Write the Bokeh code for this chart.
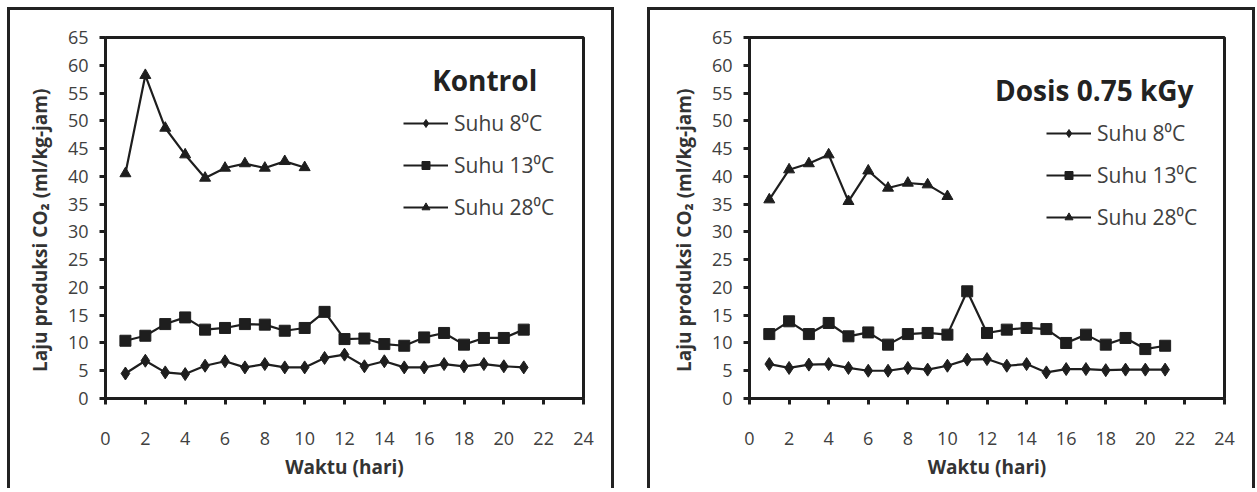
from bokeh.plotting import figure
from bokeh.layouts import row
from bokeh.models import FixedTicker, Legend, LegendItem, Label, Range1d
from bokeh.embed import file_html
from bokeh.resources import INLINE

days = list(range(1, 22))
days_28 = list(range(1, 11))
series_names = ["Suhu 8⁰C", "Suhu 13⁰C", "Suhu 28⁰C"]
y_ticks = list(range(0, 70, 5))
x_ticks = list(range(0, 26, 2))

kontrol_8 = [4.5, 6.8, 4.7, 4.4, 5.9, 6.7, 5.6, 6.2, 5.6, 5.6, 7.3, 7.9, 5.8, 6.7, 5.6, 5.6, 6.2, 5.8, 6.2, 5.8, 5.6]
kontrol_13 = [10.4, 11.3, 13.4, 14.6, 12.4, 12.7, 13.4, 13.3, 12.2, 12.7, 15.6, 10.7, 10.8, 9.8, 9.5, 11.0, 11.8, 9.7, 10.9, 10.9, 12.4]
kontrol_28 = [40.5, 58.2, 48.7, 43.9, 39.7, 41.5, 42.3, 41.5, 42.7, 41.6]

dosis_8 = [6.2, 5.5, 6.1, 6.2, 5.5, 5.0, 5.0, 5.5, 5.2, 5.9, 7.0, 7.1, 5.9, 6.2, 4.7, 5.3, 5.3, 5.1, 5.2, 5.2, 5.2]
dosis_13 = [11.6, 13.9, 11.6, 13.6, 11.2, 11.9, 9.7, 11.6, 11.8, 11.5, 19.3, 11.8, 12.4, 12.7, 12.5, 10.0, 11.5, 9.7, 10.9, 8.9, 9.5]
dosis_28 = [35.8, 41.2, 42.3, 43.9, 35.5, 41.0, 37.9, 38.8, 38.5, 36.4]

FONT = "Open Sans"
INK = "#1e1e1e"
TXT = "#404040"


def make_chart(title, title_x, title_y, d8, d13, d28, width, left, right, leg_loc):
    p = figure(width=width, height=481, output_backend="svg", toolbar_location=None,
               x_range=Range1d(0, 24), y_range=Range1d(0, 65),
               min_border_left=left, min_border_right=right,
               min_border_top=27, min_border_bottom=93)
    p.styles = {"border-top": "3px solid #222", "border-left": "3px solid #222",
                "border-right": "3px solid #222"}
    p.xgrid.visible = False
    p.ygrid.visible = False
    p.outline_line_color = INK
    p.outline_line_width = 3
    p.outline_line_alpha = 1
    p.background_fill_color = "white"
    p.border_fill_color = "white"

    for ax in (p.xaxis[0], p.yaxis[0]):
        ax.axis_line_color = INK
        ax.axis_line_width = 3
        ax.major_tick_line_color = INK
        ax.major_tick_line_width = 3
        ax.major_tick_out = 6
        ax.major_tick_in = 0
        ax.minor_tick_line_color = None
        ax.major_label_text_font = FONT
        ax.major_label_text_font_size = "18px"
        ax.major_label_text_color = TXT
        ax.axis_label_text_font = FONT
        ax.axis_label_text_font_style = "bold"
        ax.axis_label_text_font_size = "19px"
        ax.axis_label_text_color = "#333333"
    p.xaxis.ticker = FixedTicker(ticks=x_ticks)
    p.yaxis.ticker = FixedTicker(ticks=y_ticks)
    p.xaxis.axis_label = "Waktu (hari)"
    p.yaxis.axis_label = "Laju produksi  CO₂ (ml/kg-jam)\u00a0\u00a0\u00a0\u00a0"
    p.xaxis.major_label_standoff = 27
    p.yaxis.major_label_standoff = 11
    p.xaxis.axis_label_standoff = 6
    p.yaxis.axis_label_standoff = 12

    l1 = p.line(days, d8, line_color=INK, line_width=2.2)
    m1 = p.scatter(days, d8, marker="diamond", size=13, fill_color=INK, line_color=INK)
    l2 = p.line(days, d13, line_color=INK, line_width=2.2)
    m2 = p.scatter(days, d13, marker="square", size=11, fill_color=INK, line_color=INK)
    l3 = p.line(days_28, d28, line_color=INK, line_width=2.2)
    m3 = p.scatter(days_28, d28, marker="triangle", size=11, fill_color=INK, line_color=INK)

    legend = Legend(items=[LegendItem(label=series_names[0], renderers=[l1, m1]),
                           LegendItem(label=series_names[1], renderers=[l2, m2]),
                           LegendItem(label=series_names[2], renderers=[l3, m3])],
                    location=leg_loc, padding=0, margin=0, spacing=14,
                    glyph_width=45, glyph_height=20, label_height=20,
                    label_standoff=6, border_line_color=None,
                    background_fill_alpha=0,
                    label_text_font=FONT, label_text_font_size="21px",
                    label_text_color=TXT)
    p.add_layout(legend)

    p.add_layout(Label(x=title_x, y=title_y, text=title, text_font=FONT,
                       text_font_style="bold", text_font_size="28px",
                       text_color="#222222", text_baseline="middle"))
    return p


p1 = make_chart("Kontrol", 16.4, 57.3, kontrol_8, kontrol_13, kontrol_28,
                607, 95, 34, (298, 177))
p2 = make_chart("Dosis 0.75 kGy", 12.4, 55.5, dosis_8, dosis_13, dosis_28,
                608, 99, 34, (297, 167))

layout = row(p1, p2, spacing=33, margin=(7, 0, 0, 7))
open("out.html", "w").write(file_html(layout, INLINE))
